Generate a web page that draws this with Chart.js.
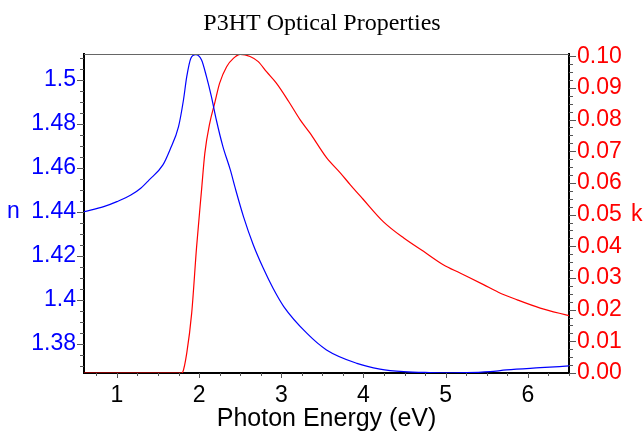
<!DOCTYPE html>
<html>
<head>
<meta charset="utf-8">
<script src="https://cdn.jsdelivr.net/npm/chart.js@4/dist/chart.umd.min.js"></script>
<style>
  body { margin: 0; background: #fff; }
</style>
</head>
<body>
<canvas id="chart" width="644" height="436"></canvas>
<script>
// refractive index n vs photon energy (eV)
const nEnergy = [0.60, 0.84, 1.00, 1.17, 1.29, 1.39, 1.56, 1.645, 1.75, 1.81, 1.85, 1.90, 1.96, 2.03, 2.09, 2.15, 2.21, 2.29, 2.38, 2.44, 2.54, 2.66, 2.78, 2.90, 3.03, 3.31, 3.55, 3.92, 4.20, 4.49, 4.80, 5.10, 5.40, 5.54, 5.74, 6.15, 6.50];
const nValues = [1.4401, 1.4424, 1.4447, 1.4477, 1.4508, 1.4545, 1.4614, 1.4682, 1.4788, 1.4909, 1.5015, 1.5099, 1.5115, 1.5091, 1.5015, 1.4924, 1.4818, 1.4697, 1.4591, 1.4508, 1.4379, 1.4250, 1.4145, 1.4053, 1.3970, 1.3849, 1.3773, 1.3712, 1.3686, 1.3674, 1.3670, 1.3669, 1.3671, 1.3674, 1.3682, 1.3692, 1.3700];

// extinction coefficient k vs photon energy (eV)
const kEnergy = [0.60, 1.79, 1.80, 1.85, 1.91, 1.97, 2.03, 2.07, 2.13, 2.19, 2.25, 2.335, 2.42, 2.50, 2.62, 2.72, 2.82, 2.94, 3.09, 3.23, 3.35, 3.47, 3.55, 3.72, 3.84, 3.99, 4.24, 4.49, 4.73, 4.97, 5.18, 5.46, 5.64, 5.87, 6.15, 6.50];
const kValues = [0.0000, 0.0000, 0.0002, 0.0063, 0.0189, 0.0399, 0.0578, 0.0694, 0.0789, 0.0852, 0.0915, 0.0967, 0.0994, 0.1006, 0.0999, 0.0983, 0.0951, 0.0915, 0.0857, 0.0799, 0.0757, 0.0710, 0.0680, 0.0631, 0.0594, 0.0550, 0.0478, 0.0426, 0.0384, 0.0342, 0.0315, 0.0279, 0.0255, 0.0231, 0.0205, 0.0181];

const energyTicks = [1, 2, 3, 4, 5, 6];
const nTicks = [1.38, 1.40, 1.42, 1.44, 1.46, 1.48, 1.50];
const nTickLabels = ['1.38', '1.4', '1.42', '1.44', '1.46', '1.48', '1.5'];
const kTicks = [0, 0.01, 0.02, 0.03, 0.04, 0.05, 0.06, 0.07, 0.08, 0.09, 0.10];
const kTickLabels = ['0.00', '0.01', '0.02', '0.03', '0.04', '0.05', '0.06', '0.07', '0.08', '0.09', '0.10'];

const toPoints = (xs, ys) => xs.map((x, i) => ({ x: x, y: ys[i] }));
const setTicks = (values) => (scale) => { scale.ticks = values.map(v => ({ value: v })); };

const tickFont = { family: 'Liberation Sans, Arial, sans-serif', size: 23 };

// frame top line, minor/major tick marks and the n / k axis letters
const extras = {
    id: 'extras',
    afterDraw(chart) {
        const { ctx, chartArea: a, scales } = chart;
        ctx.save();
        ctx.strokeStyle = '#666';
        ctx.lineWidth = 1;
        ctx.beginPath();
        ctx.moveTo(a.left, a.top + 0.5);
        ctx.lineTo(a.right, a.top + 0.5);
        ctx.stroke();

        ctx.strokeStyle = '#555';
        const marks = (scale, from, to, step, every, major, minor, dir) => {
            const n = Math.round((to - from) / step);
            for (let i = 0; i <= n; i++) {
                const v = from + i * step;
                const isMajor = Math.abs(v / every - Math.round(v / every)) < 1e-6;
                const len = isMajor ? major : minor;
                const p = Math.round(scale.getPixelForValue(v)) + 0.5;
                ctx.beginPath();
                if (dir === 'down') { ctx.moveTo(p, a.bottom); ctx.lineTo(p, a.bottom + len); }
                if (dir === 'left') { ctx.moveTo(a.left, p); ctx.lineTo(a.left - len, p); }
                if (dir === 'right') { ctx.moveTo(a.right, p); ctx.lineTo(a.right + len, p); }
                ctx.stroke();
            }
        };
        marks(scales.x, 0.75, 6.5, 0.25, 1, 5, 3, 'down');
        marks(scales.yn, 1.37, 1.51, 0.005, 0.02, 7, 4, 'left');
        marks(scales.yk, 0, 0.1, 0.0025, 0.01, 7, 4, 'right');

        ctx.font = '23px Liberation Sans, Arial, sans-serif';
        ctx.textBaseline = 'middle';
        ctx.fillStyle = '#0000ff';
        ctx.textAlign = 'left';
        ctx.fillText('n', 7, scales.yn.getPixelForValue(1.44));
        ctx.fillStyle = '#ff0000';
        ctx.fillText('k', 631, scales.yk.getPixelForValue(0.05));
        ctx.restore();
    }
};

new Chart(document.getElementById('chart'), {
    type: 'line',
    data: {
        datasets: [{
            label: 'n',
            data: toPoints(nEnergy, nValues),
            yAxisID: 'yn',
            borderColor: '#0000ff',
            borderWidth: 1.2,
            pointRadius: 0,
            cubicInterpolationMode: 'monotone',
            fill: false
        }, {
            label: 'k',
            data: toPoints(kEnergy, kValues),
            yAxisID: 'yk',
            borderColor: '#ff0000',
            borderWidth: 1.2,
            pointRadius: 0,
            cubicInterpolationMode: 'monotone',
            fill: false
        }]
    },
    options: {
        responsive: false,
        animation: false,
        layout: { padding: 0 },
        plugins: {
            legend: { display: false },
            tooltip: { enabled: false },
            title: {
                display: true,
                text: 'P3HT Optical Properties',
                color: '#000',
                font: { family: 'Liberation Serif, Times New Roman, serif', size: 24, weight: 'normal', lineHeight: 1.2 },
                padding: { top: 9, bottom: 16.2 }
            }
        },
        scales: {
            x: {
                type: 'linear',
                min: 0.6,
                max: 6.5,
                afterBuildTicks: setTicks(energyTicks),
                afterFit: (s) => { s.height = 63; },
                grid: { display: false, drawTicks: false },
                border: { display: true, color: '#000', width: 2 },
                ticks: { color: '#000', font: tickFont, padding: 9, maxRotation: 0 },
                title: {
                    display: true,
                    text: 'Photon Energy (eV)',
                    color: '#000',
                    font: { family: 'Liberation Sans, Arial, sans-serif', size: 25, lineHeight: 1.2 },
                    padding: { top: 0, bottom: 2 }
                }
            },
            yn: {
                type: 'linear',
                position: 'left',
                min: 1.3668,
                max: 1.5118,
                afterBuildTicks: setTicks(nTicks),
                afterFit: (s) => { s.width = 84; },
                grid: { display: false, drawTicks: false },
                border: { display: true, color: '#000', width: 2 },
                ticks: {
                    color: '#0000ff',
                    font: tickFont,
                    padding: 8,
                    callback: (v, i) => nTickLabels[i]
                }
            },
            yk: {
                type: 'linear',
                position: 'right',
                min: 0,
                max: 0.1007,
                afterBuildTicks: setTicks(kTicks),
                afterFit: (s) => { s.width = 75; },
                grid: { display: false, drawTicks: false },
                border: { display: true, color: '#000', width: 2 },
                ticks: {
                    color: '#ff0000',
                    font: tickFont,
                    padding: 8,
                    callback: (v, i) => kTickLabels[i]
                }
            }
        }
    },
    plugins: [extras]
});
</script>
</body>
</html>
